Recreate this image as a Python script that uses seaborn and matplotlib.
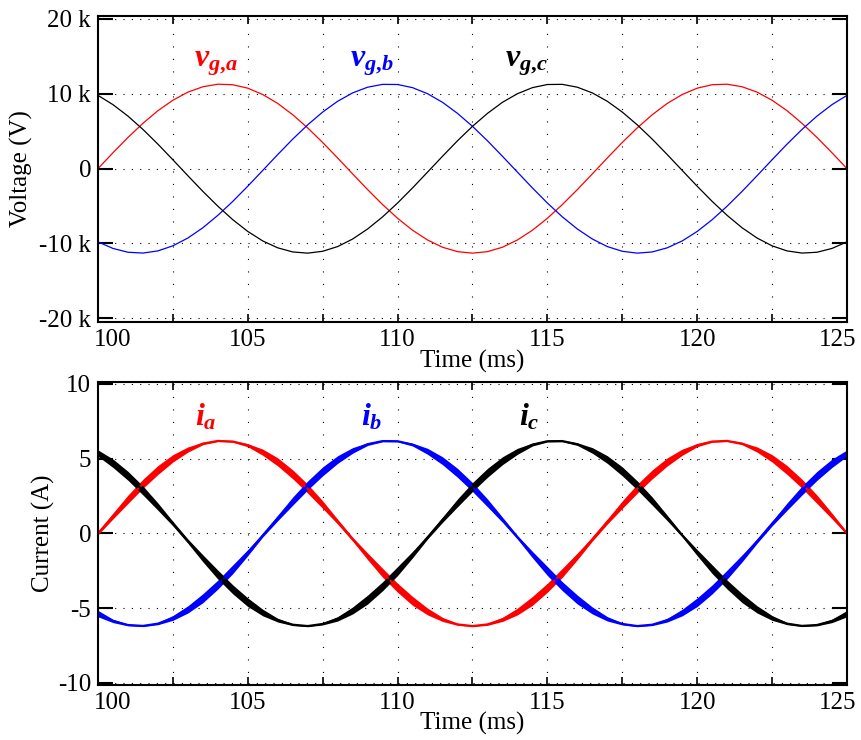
import numpy as np
import matplotlib
matplotlib.use("Agg")
import matplotlib.pyplot as plt
import matplotlib.transforms as mtrans
import seaborn as sns

# tempo (ms), amostras a cada 0.5 ms
time_ms = [100.0, 100.5, 101.0, 101.5, 102.0, 102.5, 103.0, 103.5, 104.0, 104.5,
           105.0, 105.5, 106.0, 106.5, 107.0, 107.5, 108.0, 108.5, 109.0, 109.5,
           110.0, 110.5, 111.0, 111.5, 112.0, 112.5, 113.0, 113.5, 114.0, 114.5,
           115.0, 115.5, 116.0, 116.5, 117.0, 117.5, 118.0, 118.5, 119.0, 119.5,
           120.0, 120.5, 121.0, 121.5, 122.0, 122.5, 123.0, 123.5, 124.0, 124.5,
           125.0]

# tensoes da rede (kV)
vga_kv = [0.00, 2.12, 4.16, 6.05, 7.74, 9.14, 10.22, 10.94, 11.28, 11.21,
          10.75, 9.90, 8.71, 7.20, 5.44, 3.49, 1.42, -0.71, -2.81, -4.81,
          -6.64, -8.24, -9.54, -10.51, -11.10, -11.30, -11.10, -10.51, -9.54, -8.24,
          -6.64, -4.81, -2.81, -0.71, 1.42, 3.49, 5.44, 7.20, 8.71, 9.90,
          10.75, 11.21, 11.28, 10.94, 10.22, 9.14, 7.74, 6.05, 4.16, 2.12,
          0.00]
vgb_kv = [-9.79, -10.67, -11.18, -11.29, -11.00, -10.32, -9.28, -7.91, -6.25, -4.38,
          -2.35, -0.24, 1.88, 3.94, 5.85, 7.56, 9.00, 10.12, 10.88, 11.26,
          11.24, 10.82, 10.01, 8.86, 7.38, 5.65, 3.72, 1.65, -0.47, -2.58,
          -4.60, -6.45, -8.07, -9.41, -10.42, -11.05, -11.30, -11.14, -10.59, -9.67,
          -8.40, -6.83, -5.02, -3.04, -0.95, 1.18, 3.27, 5.24, 7.02, 8.55,
          9.79]
vgc_kv = [9.79, 8.55, 7.02, 5.24, 3.27, 1.18, -0.95, -3.04, -5.02, -6.83,
          -8.40, -9.67, -10.59, -11.14, -11.30, -11.05, -10.42, -9.41, -8.07, -6.45,
          -4.60, -2.58, -0.47, 1.65, 3.72, 5.65, 7.38, 8.86, 10.01, 10.82,
          11.24, 11.26, 10.88, 10.12, 9.00, 7.56, 5.85, 3.94, 1.88, -0.24,
          -2.35, -4.38, -6.25, -7.91, -9.28, -10.32, -11.00, -11.29, -11.18, -10.67,
          -9.79]

# correntes (A)
ia = [0.00, 1.16, 2.28, 3.32, 4.24, 5.02, 5.61, 6.01, 6.19, 6.15,
      5.90, 5.43, 4.78, 3.95, 2.99, 1.92, 0.78, -0.39, -1.54, -2.64,
      -3.64, -4.52, -5.23, -5.76, -6.09, -6.20, -6.09, -5.76, -5.23, -4.52,
      -3.64, -2.64, -1.54, -0.39, 0.78, 1.92, 2.99, 3.95, 4.78, 5.43,
      5.90, 6.15, 6.19, 6.01, 5.61, 5.02, 4.24, 3.32, 2.28, 1.16,
      0.00]
ib = [-5.37, -5.86, -6.13, -6.19, -6.04, -5.66, -5.09, -4.34, -3.43, -2.40,
      -1.29, -0.13, 1.03, 2.16, 3.21, 4.15, 4.94, 5.55, 5.97, 6.18,
      6.17, 5.94, 5.49, 4.86, 4.05, 3.10, 2.04, 0.91, -0.26, -1.42,
      -2.52, -3.54, -4.43, -5.16, -5.72, -6.06, -6.20, -6.11, -5.81, -5.30,
      -4.61, -3.75, -2.76, -1.67, -0.52, 0.65, 1.79, 2.87, 3.85, 4.69,
      5.37]
ic = [5.37, 4.69, 3.85, 2.87, 1.79, 0.65, -0.52, -1.67, -2.76, -3.75,
      -4.61, -5.30, -5.81, -6.11, -6.20, -6.06, -5.72, -5.16, -4.43, -3.54,
      -2.52, -1.42, -0.26, 0.91, 2.04, 3.10, 4.05, 4.86, 5.49, 5.94,
      6.17, 6.18, 5.97, 5.55, 4.94, 4.15, 3.21, 2.16, 1.03, -0.13,
      -1.29, -2.40, -3.43, -4.34, -5.09, -5.66, -6.04, -6.19, -6.13, -5.86,
      -5.37]

cores = ["#ff0000", "#0000ff", "#000000"]
rotulos_v = [r"$v_{g{,}a}$", r"$v_{g{,}b}$", r"$v_{g{,}c}$"]
rotulos_i = [r"$i_a$", r"$i_b$", r"$i_c$"]

x_ticks = [100, 102.5, 105, 107.5, 110, 112.5, 115, 117.5, 120, 122.5, 125]
x_ticklabels = ["100", "", "105", "", "110", "", "115", "", "120", "", "125"]
v_ticks = [-20, -10, 0, 10, 20]
v_ticklabels = ["-20 k", "-10 k", "0", "10 k", "20 k"]
i_ticks = [-10, -5, 0, 5, 10]
i_ticklabels = ["-10", "-5", "0", "5", "10"]

sns.set_theme(style="white")
plt.rcParams["font.family"] = ["Liberation Serif", "DejaVu Serif"]
plt.rcParams["mathtext.fontset"] = "custom"
plt.rcParams["mathtext.it"] = "Liberation Serif:italic:bold"
plt.rcParams["mathtext.rm"] = "Liberation Serif:bold"
plt.rcParams["mathtext.bf"] = "Liberation Serif:bold"
plt.rcParams["text.color"] = "black"
plt.rcParams["axes.labelcolor"] = "black"
plt.rcParams["xtick.color"] = "black"
plt.rcParams["ytick.color"] = "black"

fig = plt.figure(figsize=(8.61, 7.4), dpi=100)
ax1 = fig.add_axes([0.1138, 0.5649, 0.8699, 0.4135])
ax2 = fig.add_axes([0.1138, 0.0743, 0.8699, 0.4095])

# tensoes
for y, c in zip([vga_kv, vgb_kv, vgc_kv], cores):
    sns.lineplot(x=time_ms, y=y, color=c, linewidth=0.9, ax=ax1,
                 estimator=None, sort=False)

# correntes com faixa de ripple (espessura so como estilo)
t = np.array(time_ms)
for y, c in zip([ia, ib, ic], cores):
    y = np.array(y)
    w = np.interp(np.abs(y), [0, 1.0, 2.5, 4.5, 5.5, 6.0, 6.2],
                  [0.10, 0.18, 0.30, 0.30, 0.20, 0.08, 0.05])
    ax2.fill_between(t, y - w, y + w, color=c, linewidth=0)
    sns.lineplot(x=time_ms, y=y, color=c, linewidth=1.5, ax=ax2,
                 estimator=None, sort=False)


def formatar(ax, yticks, ylabels, ylim, ylabel, ylabel_x):
    ax.set_xlim(100, 125)
    ax.set_ylim(*ylim)
    ax.set_xticks(x_ticks)
    ax.set_xticklabels(x_ticklabels)
    ax.set_yticks(yticks)
    ax.set_yticklabels(ylabels)
    for s in ax.spines.values():
        s.set_visible(True)
        s.set_color("black")
        s.set_linewidth(1.5)
    ax.tick_params(axis="y", direction="in", length=11, width=1.5, left=True,
                   right=True, labelsize=18, pad=5, colors="black")
    ax.tick_params(axis="x", direction="in", length=6, width=1.2, bottom=True,
                   top=True, labelsize=18, pad=5, colors="black")
    ax.grid(False)
    for v in x_ticks[1:-1]:
        ax.axvline(v, color="black", linewidth=0.8, linestyle=(0, (1, 10.25)),
                   zorder=0.5)
    for v in yticks:
        ax.axhline(v, color="black", linewidth=0.8, linestyle=(0, (1, 6.5)),
                   zorder=0.5)
    ax.set_xlabel("Time (ms)", fontsize=18, color="black")
    ax.xaxis.set_label_coords(0.5, -0.09)
    ax.set_ylabel(ylabel, fontsize=18, color="black")
    ax.yaxis.set_label_coords(ylabel_x, 0.5)
    # deslocar primeiro e ultimo rotulo para dentro da figura
    ticks = ax.xaxis.get_major_ticks()
    ticks[0].label1.set_transform(ticks[0].label1.get_transform() +
                                  mtrans.ScaledTranslation(0.15, 0, fig.dpi_scale_trans))
    ticks[-1].label1.set_transform(ticks[-1].label1.get_transform() +
                                   mtrans.ScaledTranslation(-0.09, 0, fig.dpi_scale_trans))


formatar(ax1, v_ticks, v_ticklabels, (-20.5, 20.4), "Voltage (V)", -0.087)
formatar(ax2, i_ticks, i_ticklabels, (-10.15, 10.13), "Current (A)", -0.058)

for x, txt, c in zip([103.95, 109.15, 114.3], rotulos_v, cores):
    ax1.text(x, 14.1, txt, color=c, fontsize=23, ha="center", va="center")
for x, txt, c in zip([103.6, 109.15, 114.4], rotulos_i, cores):
    ax2.text(x, 7.8, txt, color=c, fontsize=23, ha="center", va="center")

fig.savefig("out.png", dpi=100)
